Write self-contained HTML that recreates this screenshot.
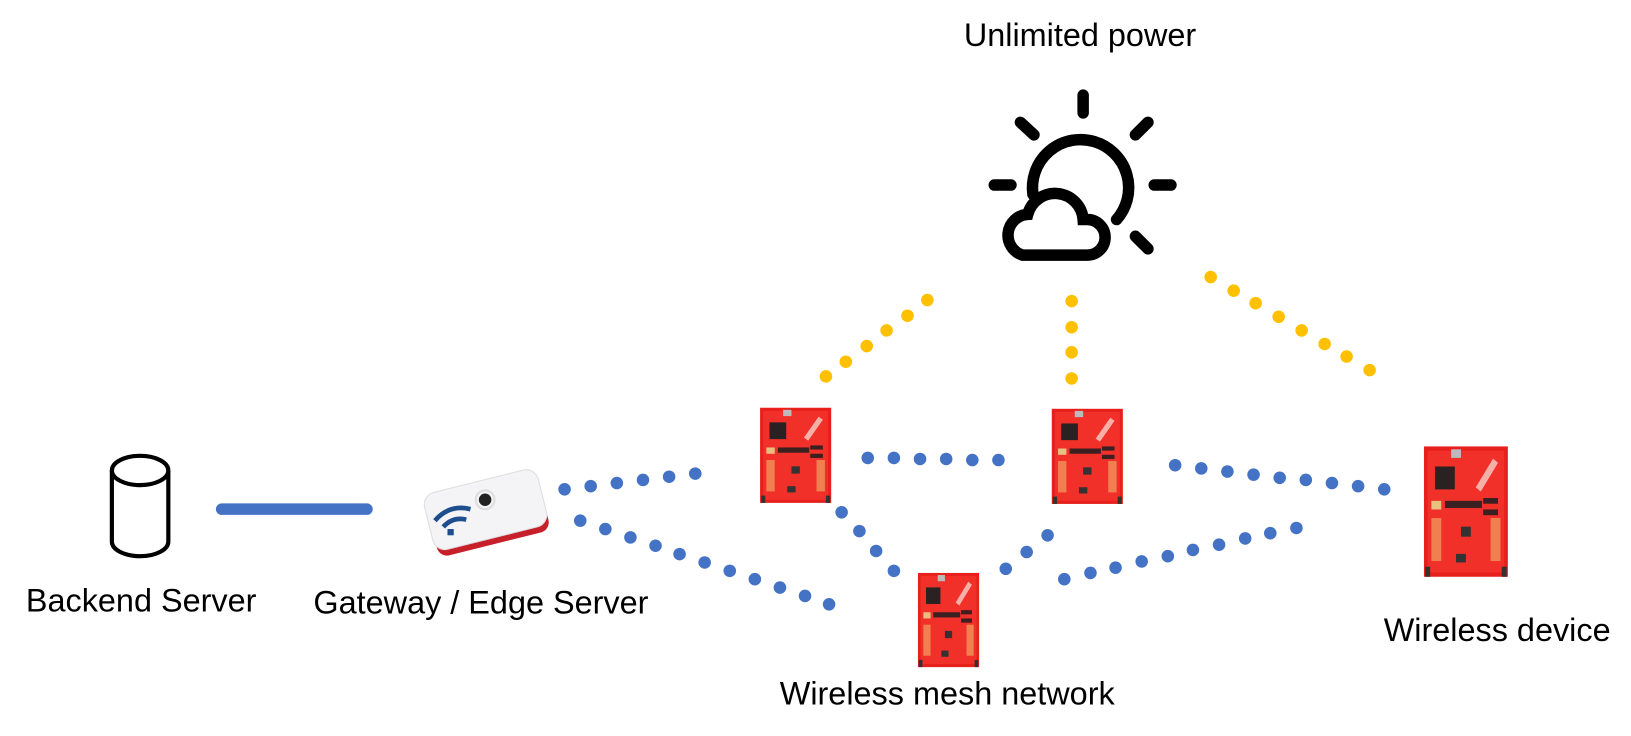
<!DOCTYPE html>
<html><head><meta charset="utf-8"><style>
html,body{margin:0;padding:0;background:#fff;}
svg{display:block;}
text{font-family:"Liberation Sans",sans-serif;font-size:31px;fill:#000;}
</style></head><body>
<svg width="1631" height="736" viewBox="0 0 1631 736" xmlns="http://www.w3.org/2000/svg">
<defs>
<g id="board">
<rect x="0" y="0" width="68" height="91" fill="#e8201c"/>
<rect x="3" y="3" width="62" height="85" fill="#f2302a"/>
<rect x="9" y="14" width="16" height="16" fill="#2a2222"/>
<rect x="22" y="2" width="8" height="6" fill="#bbb"/>
<rect x="6" y="38" width="8" height="6" fill="#e8c080"/>
<rect x="17" y="38" width="30" height="5" fill="#3a2020"/>
<rect x="48" y="36" width="12" height="4" fill="#3a2020"/>
<rect x="48" y="44" width="12" height="4" fill="#3a2020"/>
<path d="M44 30 L58 10" stroke="#f7b0a8" stroke-width="5"/>
<rect x="6" y="50" width="8" height="30" fill="#f08050"/>
<rect x="54" y="50" width="8" height="30" fill="#f08050"/>
<rect x="30" y="56" width="8" height="7" fill="#333"/>
<rect x="26" y="75" width="8" height="6" fill="#333"/>
<rect x="1" y="84" width="4" height="7" fill="#333"/>
<rect x="63" y="84" width="4" height="7" fill="#333"/>
</g>
</defs>
<g transform="scale(1.0455)">
<text x="1033" y="44" text-anchor="middle">Unlimited power</text>
<text x="135" y="585" text-anchor="middle">Backend Server</text>
<text x="460" y="587" text-anchor="middle">Gateway / Edge Server</text>
<text x="906" y="674" text-anchor="middle">Wireless mesh network</text>
<text x="1432" y="613" text-anchor="middle">Wireless device</text>

<g fill="#fff" stroke="#000" stroke-width="4">
<path d="M107 450 L107 518 A27 14 0 0 0 161 518 L161 450"/>
<ellipse cx="134" cy="450" rx="27" ry="14"/>
</g>
<line x1="212" y1="487" x2="351" y2="487" stroke="#4472c4" stroke-width="11" stroke-linecap="round"/>

<g transform="translate(404,446) rotate(-14 58 40)">
<rect x="6" y="28" width="110" height="48" rx="10" fill="#c8202a"/>
<rect x="4" y="14" width="112" height="56" rx="12" fill="#f4f4f6" stroke="#ddd" stroke-width="1"/>
</g>
<circle cx="464" cy="478" r="6" fill="#222"/>
<circle cx="464" cy="478" r="9" fill="none" stroke="#ddd" stroke-width="2"/>
<g fill="none" stroke="#1f4e8c" stroke-width="4.5">
<path d="M416 498 Q430 482 450 487"/>
<path d="M424 504 Q433 494 446 497"/>
</g>
<rect x="428" y="506" width="6" height="6" fill="#1f4e8c"/>

<g stroke="#000" stroke-width="11" stroke-linecap="round" fill="none">
<line x1="1036" y1="91" x2="1036" y2="108"/>
<line x1="976" y1="117" x2="989" y2="129"/>
<line x1="1098" y1="117" x2="1086" y2="129"/>
<line x1="951" y1="177" x2="967" y2="177"/>
<line x1="1104" y1="177" x2="1120" y2="177"/>
<line x1="1086" y1="226" x2="1098" y2="238"/>
<path d="M988 186 A46 46 0 1 1 1068 210"/>
<path d="M978 244 L1040 244 A17 17 0 0 0 1040 210 L1036 210 A27 27 0 0 0 983 205 A20 20 0 0 0 978 244 Z" fill="#fff"/>
</g>

<use href="#board" x="727" y="390"/>
<use href="#board" x="1006" y="391"/>
<use href="#board" transform="translate(878,548) scale(0.86,0.99)"/>
<use href="#board" transform="translate(1362,427) scale(1.18,1.37)"/>

<g fill="#4472c4">
<circle cx="540" cy="468" r="6"/><circle cx="565" cy="465" r="6"/><circle cx="590" cy="462" r="6"/><circle cx="615" cy="459" r="6"/><circle cx="640" cy="456" r="6"/><circle cx="665" cy="453" r="6"/>
<circle cx="555" cy="498" r="6"/><circle cx="579" cy="506" r="6"/><circle cx="603" cy="514" r="6"/><circle cx="627" cy="522" r="6"/><circle cx="650" cy="530" r="6"/><circle cx="674" cy="538" r="6"/><circle cx="698" cy="546" r="6"/><circle cx="722" cy="554" r="6"/><circle cx="746" cy="562" r="6"/><circle cx="770" cy="570" r="6"/><circle cx="793" cy="578" r="6"/>
<circle cx="830" cy="438" r="6"/><circle cx="855" cy="438" r="6"/><circle cx="880" cy="439" r="6"/><circle cx="905" cy="439" r="6"/><circle cx="930" cy="440" r="6"/><circle cx="955" cy="440" r="6"/>
<circle cx="805" cy="490" r="6"/><circle cx="822" cy="508" r="6"/><circle cx="838" cy="527" r="6"/><circle cx="855" cy="546" r="6"/>
<circle cx="962" cy="544" r="6"/><circle cx="982" cy="528" r="6"/><circle cx="1002" cy="512" r="6"/>
<circle cx="1018" cy="554" r="6"/><circle cx="1043" cy="548" r="6"/><circle cx="1067" cy="543" r="6"/><circle cx="1092" cy="537" r="6"/><circle cx="1117" cy="532" r="6"/><circle cx="1141" cy="526" r="6"/><circle cx="1166" cy="521" r="6"/><circle cx="1191" cy="515" r="6"/><circle cx="1215" cy="510" r="6"/><circle cx="1240" cy="505" r="6"/>
<circle cx="1124" cy="445" r="6"/><circle cx="1149" cy="448" r="6"/><circle cx="1174" cy="451" r="6"/><circle cx="1199" cy="454" r="6"/><circle cx="1224" cy="457" r="6"/><circle cx="1249" cy="459" r="6"/><circle cx="1274" cy="462" r="6"/><circle cx="1299" cy="465" r="6"/><circle cx="1324" cy="468" r="6"/>
</g>
<g fill="#ffc000">
<circle cx="790" cy="360" r="6"/><circle cx="809" cy="346" r="6"/><circle cx="829" cy="331" r="6"/><circle cx="848" cy="316" r="6"/><circle cx="868" cy="302" r="6"/><circle cx="887" cy="287" r="6"/>
<circle cx="1025" cy="288" r="6"/><circle cx="1025" cy="313" r="6"/><circle cx="1025" cy="337" r="6"/><circle cx="1025" cy="362" r="6"/>
<circle cx="1158" cy="265" r="6"/><circle cx="1180" cy="278" r="6"/><circle cx="1201" cy="290" r="6"/><circle cx="1223" cy="303" r="6"/><circle cx="1245" cy="316" r="6"/><circle cx="1267" cy="329" r="6"/><circle cx="1288" cy="341" r="6"/><circle cx="1310" cy="354" r="6"/>
</g>
</g>
</svg>
</body></html>
